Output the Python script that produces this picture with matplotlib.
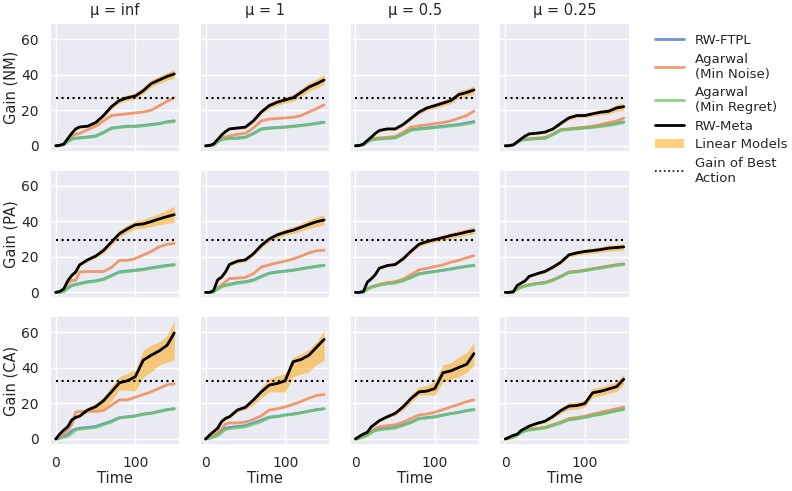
import numpy as np
import matplotlib
matplotlib.use('Agg')
import matplotlib.pyplot as plt
import seaborn as sns

t = [0, 5, 10, 15, 20, 25, 30, 40, 50, 60, 70, 80, 90, 100, 110, 120, 130, 140, 149]

mus = ['inf', '1', '0.5', '0.25']
rows = ['NM', 'PA', 'CA']
best_gain = [27, 29.7, 32.5]

# panels in row-major order: (NM, inf), (NM, 1), ... (CA, 0.25)
rw_meta = [
    [0, 0.3, 1, 4, 7, 9.5, 10.6, 11, 13, 17, 22, 25.5, 27, 28, 31, 35, 37, 39, 40.4],
    [0, 0.2, 1, 3.5, 6, 8, 9.5, 10, 10.5, 14, 19, 22.6, 24.5, 25.8, 27, 30, 33, 35, 37],
    [0, 0.2, 1, 3, 4.9, 7, 8.6, 9.5, 9.5, 12, 15.5, 19, 21.3, 22.6, 24, 25.4, 28.8, 30, 31.4],
    [0, 0.1, 0.5, 2.2, 3.9, 5.5, 6.7, 7.1, 7.7, 9.5, 12.7, 15.7, 17, 17, 18, 18.9, 19.4, 21.3, 22],
    [0, 0.5, 2, 6.5, 9.5, 11.5, 15.5, 18.3, 20.4, 23.6, 28.3, 33, 35.7, 38, 38.5, 39.8, 41.3, 42.6, 43.7],
    [0, 0, 1, 7, 8.6, 11.5, 15.7, 17.6, 18.3, 21.7, 26.4, 30, 32.3, 33.8, 35, 36.6, 38.3, 39.8, 40.7],
    [0, 0, 0.5, 5.8, 7.7, 10, 13.6, 15.1, 15.7, 18.9, 23.2, 27.1, 28.6, 29.7, 30.8, 32, 32.9, 34, 34.8],
    [0, 0, 0.3, 3.9, 5.2, 6.5, 9, 10.5, 11.8, 14.2, 17, 21.1, 22.2, 23, 23.5, 24.1, 24.9, 25.2, 25.6],
    [0, 2.8, 5, 6.9, 10.7, 12.1, 12.9, 16.3, 18.1, 21.5, 26.5, 31.6, 32.7, 35, 44.3, 47.1, 49.5, 52.7, 59.6],
    [0, 2.2, 4.1, 6, 9.7, 11.6, 12.5, 16.3, 17.8, 21.9, 26.5, 30.3, 31.2, 32.7, 43.4, 44.7, 47.1, 51.8, 56],
    [0, 1.5, 2.8, 3.8, 6.9, 8.5, 10.3, 12.5, 14.4, 18.1, 22.8, 26.5, 26.9, 28.4, 37.2, 38.3, 40.2, 42, 48],
    [0, 1, 2, 2.7, 4.8, 6, 7.2, 8.8, 10, 12.7, 16, 18.5, 18.8, 19.9, 26, 26.8, 28.1, 29.4, 33.6],
]

lin_lo = [
    [0, 0.2, 0.7, 3.5, 6.3, 8.7, 9.8, 10.2, 12, 15.8, 20.6, 24, 25.4, 26.3, 29.2, 33, 35, 36.8, 38],
    [0, 0.1, 0.7, 3.1, 5.5, 7.4, 8.8, 9.2, 9.6, 12.9, 17.7, 21, 22.8, 24, 25, 27.8, 30.6, 32.5, 34.7],
    [0, 0.1, 0.7, 2.6, 4.4, 6.4, 7.9, 8.7, 8.7, 11, 14.3, 17.7, 19.9, 21.1, 22.4, 23.7, 26.8, 27.8, 29],
    [0, 0, 0.3, 1.9, 3.5, 5, 6.1, 6.5, 7, 8.7, 11.7, 14.6, 15.8, 15.8, 16.7, 17.5, 17.8, 19.5, 19.8],
    [0, 0.3, 1.5, 5.8, 8.6, 10.5, 14.5, 17.2, 19.2, 22, 26.5, 31, 33.5, 35.7, 36, 37, 38, 38.8, 39.4],
    [0, 0, 0.6, 6.3, 7.8, 10.6, 14.7, 16.5, 17.2, 20.4, 25, 28.5, 30.6, 32, 33, 34.4, 35.8, 37, 37.8],
    [0, 0, 0.3, 5.2, 7, 9.2, 12.8, 14.2, 14.8, 17.8, 22, 25.8, 27.2, 28.2, 29.2, 30.3, 31.1, 32.1, 32.8],
    [0, 0, 0.1, 3.5, 4.7, 5.9, 8.3, 9.7, 10.9, 13.2, 15.9, 19.9, 20.9, 21.6, 22, 22.5, 23.2, 23.4, 23.8],
    [0, 2.5, 4.5, 6.3, 10, 11.3, 12, 15.3, 16.5, 17, 21.5, 27.5, 27.5, 27, 35, 37.8, 41.5, 43.4, 44.3],
    [0, 2, 3.6, 5.4, 9, 10.8, 11.6, 15.2, 16.5, 19, 23, 26.5, 26.5, 26.5, 35, 36.5, 37.8, 42, 44.3],
    [0, 1.3, 2.5, 3.4, 6.4, 7.9, 9.6, 11.7, 13.5, 16.3, 20.5, 24.7, 24.7, 24.7, 32, 33.5, 35, 37.5, 41.5],
    [0, 0.9, 1.8, 2.4, 4.4, 5.5, 6.6, 8, 9, 11.4, 14.4, 16.5, 16.8, 17.9, 23.5, 24.3, 25.6, 26.7, 30.6],
]

lin_hi = [
    [0, 0.4, 1.3, 4.5, 7.7, 10.3, 11.5, 12, 14.2, 18.3, 23.5, 27.2, 28.7, 29.8, 32.9, 37.1, 39.2, 41.3, 43],
    [0, 0.3, 1.3, 3.9, 6.5, 8.6, 10.2, 10.8, 11.4, 15.1, 20.3, 24.2, 26.2, 27.6, 29, 32.2, 35.4, 37.5, 40.5],
    [0, 0.3, 1.3, 3.4, 5.4, 7.6, 9.3, 10.3, 10.3, 13, 16.7, 20.3, 22.7, 24.1, 25.6, 27.1, 30.8, 32.2, 33.8],
    [0, 0.2, 0.7, 2.5, 4.3, 6, 7.3, 7.7, 8.4, 10.3, 13.7, 16.8, 18.2, 18.2, 19.3, 20.3, 21, 23.1, 24.2],
    [0, 0.7, 2.5, 7.2, 10.4, 12.5, 16.5, 19.4, 21.6, 25.2, 30.1, 35, 37.9, 40.3, 41, 42.6, 44.4, 46.4, 48.4],
    [0, 0, 1.4, 7.7, 9.4, 12.4, 16.7, 18.7, 19.4, 23, 27.8, 31.5, 34, 35.6, 37, 38.8, 40.8, 42.6, 43.6],
    [0, 0, 0.7, 6.4, 8.4, 10.8, 14.4, 16, 16.6, 20, 24.4, 28.4, 30, 31.2, 32.4, 33.7, 34.7, 35.9, 37],
    [0, 0, 0.5, 4.3, 5.7, 7.1, 9.7, 11.3, 12.7, 15.2, 18.1, 22.3, 23.5, 24.4, 25, 25.7, 26.6, 27, 27.4],
    [0, 3.1, 5.5, 7.5, 11.4, 12.9, 13.8, 17.8, 20, 23.7, 29.5, 35, 37, 38.7, 50, 52.7, 54.6, 58.3, 66.7],
    [0, 2.4, 4.6, 6.6, 10.4, 12.4, 13.4, 17.4, 19.3, 23.4, 29, 34, 35.5, 36.8, 46, 48, 50.3, 55, 61],
    [0, 1.7, 3.1, 4.2, 7.4, 9.1, 11, 13.3, 15.4, 20, 25, 29.3, 30, 32.7, 41.5, 43, 46.2, 48.5, 54.6],
    [0, 1.1, 2.2, 3, 5.2, 6.5, 7.8, 9.6, 11, 14, 17.6, 20.5, 20.8, 21.9, 28.5, 29.3, 30.6, 32.1, 36.6],
]

rw_ftpl = [
    [0, 0.1, 0.5, 2.5, 4, 4.3, 4.5, 5, 5.5, 7.5, 10, 10.5, 11, 11, 11.5, 12, 12.5, 13.5, 14],
    [0, 0.1, 0.5, 2.3, 3.7, 4, 4.2, 4.4, 4.8, 7, 9.5, 10, 10.3, 10.6, 11, 11.5, 12, 12.7, 13.3],
    [0, 0.1, 0.5, 2.2, 3.5, 3.8, 4, 4.3, 4.6, 6.7, 9, 9.6, 10, 10.5, 11, 11.5, 12, 12.8, 13.6],
    [0, 0.1, 0.5, 2, 3.3, 3.6, 3.8, 4.1, 4.4, 6.5, 9, 9.4, 9.8, 10.2, 10.6, 11.2, 11.8, 12.6, 13.4],
    [0, 0.2, 0.5, 2.5, 4, 4.5, 5, 6, 6.5, 7.5, 9.5, 11.5, 12, 12.5, 13, 13.8, 14.5, 15.2, 15.6],
    [0, 0, 0.3, 2, 3.5, 4, 4.5, 5.5, 6, 7, 9, 10.8, 11.5, 12, 12.5, 13.3, 14, 14.7, 15.2],
    [0, 0, 0.3, 2, 3, 3.7, 4.2, 5, 5.5, 6.7, 8.5, 10.5, 11.2, 11.8, 12.5, 13.2, 14, 14.7, 15.2],
    [0, 0, 0.3, 2, 3, 3.7, 4.2, 5, 5.5, 7, 9, 11.3, 11.7, 12.4, 13.2, 13.9, 14.7, 15.4, 15.9],
    [0, 0.5, 1.5, 2.5, 4.5, 5.5, 6, 6.5, 7, 8.5, 10, 12, 12.5, 13, 14, 14.5, 15.5, 16.5, 17],
    [0, 0.5, 1.5, 2.5, 4.5, 6, 6.5, 7, 7.5, 9, 10.5, 12.3, 12.7, 13.5, 14, 14.8, 15.7, 16.5, 17],
    [0, 0.5, 1.3, 2.5, 4, 5, 5.5, 6, 6.5, 8, 9.5, 11.5, 12, 12.5, 13.5, 14.3, 15, 16, 16.5],
    [0, 0.5, 1.2, 2.3, 3.8, 4.8, 5.3, 5.8, 6.4, 7.8, 9.2, 11, 11.5, 12.3, 13.3, 14, 15, 16, 16.8],
]

agarwal_noise = [
    [0, 0.1, 1, 3.5, 5.5, 6.5, 7, 9, 11, 14, 17, 17.5, 18, 18.5, 19, 20, 22.5, 25, 27],
    [0, 0.1, 0.7, 2.8, 4.5, 5, 5.5, 6.5, 7, 10, 14, 15, 15.3, 15.7, 16, 17, 19, 21, 23],
    [0, 0.1, 0.6, 2.5, 4, 4.3, 4.5, 4.8, 5.2, 7.5, 10.5, 11.3, 11.8, 12.5, 13, 14, 15.5, 17, 19.5],
    [0, 0.1, 0.5, 2, 3.5, 3.8, 4, 4.3, 4.7, 6.5, 9, 9.5, 10, 10.5, 11, 12, 13, 14, 15.5],
    [0, 0.3, 0.5, 5, 6.7, 6.7, 11.5, 11.7, 11.7, 11.7, 14, 18, 18, 19, 21, 23, 25.6, 27, 27.5],
    [0, 0, 0.5, 2.5, 4, 6, 7.7, 8, 8.4, 10.5, 14.2, 15.5, 16.6, 17.6, 18.8, 20.4, 22.2, 23.4, 23.7],
    [0, 0, 0.3, 2, 3, 3.8, 4.5, 5.5, 6, 7.5, 10, 12.7, 13.5, 14.5, 15.5, 17, 18, 19.5, 20.6],
    [0, 0, 0.3, 2, 3, 3.7, 4.2, 5, 5.5, 7, 9, 11.4, 11.8, 12.5, 13.3, 14, 14.8, 15.5, 16],
    [0, 1, 3, 5, 8, 15, 15.5, 15.5, 15.5, 16, 19, 22, 22, 23.5, 25, 26.5, 28.5, 30.5, 31],
    [0, 0.5, 2, 3.5, 6, 8.4, 9, 9, 9.5, 11, 13, 16.3, 17, 18, 19.5, 21, 23, 24.5, 25],
    [0, 0.5, 1.5, 3, 4.5, 6, 6.9, 7.5, 8, 9.5, 11.5, 13.5, 14, 15, 16.5, 18, 19.5, 21, 22],
    [0, 0.5, 1.2, 2.3, 3.8, 5, 5.5, 6, 6.5, 8, 9.5, 11.5, 12, 12.8, 14, 15, 16, 17, 18],
]

agarwal_regret = [
    [0, 0.1, 0.5, 2.2, 3.5, 4.1, 4.3, 4.7, 5.2, 7.3, 9.8, 10.3, 10.7, 10.9, 11.2, 11.8, 12.4, 13.2, 13.6],
    [0, 0.1, 0.4, 2, 3.4, 3.8, 4, 4.2, 4.6, 6.7, 9.2, 9.8, 10.1, 10.4, 10.8, 11.3, 11.8, 12.5, 13.1],
    [0, 0.1, 0.4, 2, 3.2, 3.6, 3.8, 4.1, 4.4, 6.4, 8.7, 9.3, 9.7, 10.2, 10.6, 11.1, 11.6, 12.3, 13],
    [0, 0.1, 0.4, 1.8, 3.1, 3.4, 3.6, 3.9, 4.2, 6.2, 8.7, 9.1, 9.5, 9.9, 10.3, 10.8, 11.4, 12.2, 13],
    [0, 0.2, 0.4, 2.2, 3.7, 4.2, 4.7, 5.7, 6.2, 7.2, 9.2, 11.2, 11.7, 12.2, 12.7, 13.5, 14.2, 14.9, 15.3],
    [0, 0, 0.3, 1.8, 3.2, 3.7, 4.2, 5.2, 5.7, 6.7, 8.7, 10.6, 11.3, 11.8, 12.4, 13.1, 13.9, 14.6, 15.1],
    [0, 0, 0.3, 1.8, 2.8, 3.5, 4, 4.8, 5.3, 6.5, 8.3, 10.3, 11, 11.6, 12.3, 13, 13.8, 14.5, 15],
    [0, 0, 0.3, 1.8, 2.8, 3.5, 4, 4.8, 5.3, 6.8, 8.8, 11.1, 11.5, 12.2, 13, 13.7, 14.5, 15.2, 15.6],
    [0, 0.4, 1, 1.5, 3, 5, 5.5, 6, 6.5, 8, 9.5, 11.8, 12.3, 12.8, 13.8, 14.4, 15.4, 16.4, 16.9],
    [0, 0.4, 1, 1.8, 3.5, 5.3, 5.8, 6.3, 6.8, 8.3, 9.8, 12, 12.5, 13.3, 13.9, 14.7, 15.6, 16.4, 16.9],
    [0, 0.4, 1, 2, 3.5, 4.6, 5.1, 5.6, 6.1, 7.6, 9.2, 11.3, 11.8, 12.3, 13.3, 14.2, 14.9, 15.9, 16.4],
    [0, 0.4, 1, 2, 3.5, 4.5, 5, 5.5, 6.1, 7.5, 9, 10.8, 11.3, 12.1, 13.1, 13.8, 14.8, 15.8, 16.6],
]

sns.set_theme(style='darkgrid')
plt.rcParams['font.family'] = ['DejaVu Sans']
pal = sns.color_palette('muted')

fig, axes = plt.subplots(3, 4, figsize=(7.92, 4.91), dpi=100, sharex=True, sharey=True)
fig.subplots_adjust(left=0.063, right=0.795, top=0.953, bottom=0.094, wspace=0.15, hspace=0.14)

for i, row in enumerate(rows):
    for j, mu in enumerate(mus):
        ax = axes[i, j]
        k = i * 4 + j
        ax.fill_between(t, lin_lo[k], lin_hi[k], color='orange', alpha=0.5, lw=0, label='Linear Models')
        ax.plot(t, rw_ftpl[k], color=pal[0], lw=2, alpha=0.8, label='RW-FTPL')
        ax.plot(t, agarwal_noise[k], color=pal[1], lw=2, alpha=0.8, label='Agarwal\n(Min Noise)')
        ax.plot(t, agarwal_regret[k], color=pal[2], lw=2, alpha=0.8, label='Agarwal\n(Min Regret)')
        ax.plot(t, rw_meta[k], color='black', lw=2, label='RW-Meta')
        ax.plot([t[0], t[-1]], [best_gain[i], best_gain[i]], color='black', ls=':', lw=1.5,
                label='Gain of Best\nAction')
        ax.set_yticks([0, 20, 40, 60])
        ax.set_xticks([0, 100])
        ax.set_ylim(-3.3, 69)
        ax.tick_params(labelsize=10, pad=2)
        if i == 0:
            ax.set_title('\u03bc = ' + mu, fontsize=10.5)
        if j == 0:
            ax.set_ylabel('Gain (' + row + ')', fontsize=10.5, labelpad=2)
        if i == 2:
            ax.set_xlabel('Time', fontsize=10.5, labelpad=1)

h, l = axes[0, 0].get_legend_handles_labels()
order = [1, 2, 3, 4, 0, 5]
leg = fig.legend([h[o] for o in order], [l[o] for o in order], loc='upper left',
                 bbox_to_anchor=(0.812, 0.955), frameon=False, fontsize=9.5,
                 handlelength=2.2, labelspacing=0.42)
leg.get_lines()[-1].set_linewidth(1.2)

fig.savefig('out.png', dpi=100)
